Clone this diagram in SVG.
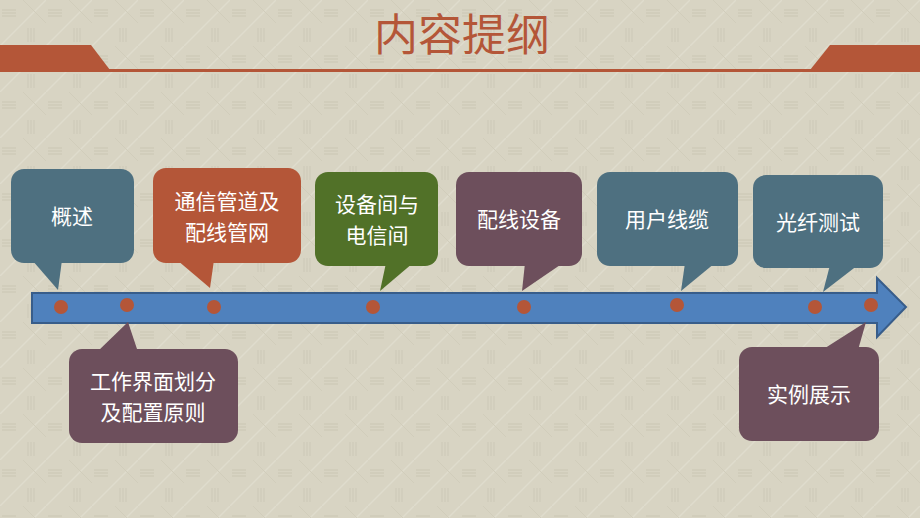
<svg xmlns="http://www.w3.org/2000/svg" width="920" height="518" viewBox="0 0 920 518">
<defs>
<pattern id="tex" width="46" height="46" patternUnits="userSpaceOnUse">
<rect width="46" height="46" fill="#D8D4C3"/>
<path d="M0 46 L46 0" stroke="#DFDCCD" stroke-width="1.5"/>
<path d="M2 10 H16 M2 13 H16 M2 16 H16" stroke="#CAC6B4" stroke-width="1"/>
<path d="M28 28 V42 M31 28 V42 M34 28 V42" stroke="#CDC9B7" stroke-width="1"/>
<path d="M23 0 L46 23" stroke="#D1CDBB" stroke-width="1"/>
</pattern>
<style>
.t{font-family:"Noto Sans CJK SC","Noto Sans",sans-serif;font-size:21px;fill:#FFFFFF;text-anchor:middle}
.blue{fill:#4E7080}
.red{fill:#B45638}
.green{fill:#517128}
.mauve{fill:#6D4F5C}
.dot{fill:#B45638}
</style>
</defs>
<rect width="920" height="518" fill="url(#tex)"/>
<g id="header">
<polygon points="0,45 91,45 110,70 0,70" fill="#B45638"/>
<polygon points="830,45 920,45 920,70 810,70" fill="#B45638"/>
<rect x="0" y="69" width="920" height="3" fill="#B45638"/>
<text x="462" y="51" style="font-family:'Noto Sans CJK SC','Noto Sans',sans-serif;font-size:44px;fill:#B45638;text-anchor:middle">内容提纲</text>
</g>
<g id="connectors">
<path d="M32,293 H877 V278 L906,307 L877,337 V323 H32 Z" fill="#4F81BD" stroke="#385D8A" stroke-width="2"/>
<circle class="dot" cx="61" cy="307" r="7"/>
<circle class="dot" cx="127" cy="305" r="7"/>
<circle class="dot" cx="214" cy="307" r="7"/>
<circle class="dot" cx="373" cy="307" r="7"/>
<circle class="dot" cx="524" cy="307" r="7"/>
<circle class="dot" cx="677" cy="305" r="7"/>
<circle class="dot" cx="815" cy="307" r="7"/>
<circle class="dot" cx="871" cy="305" r="7"/>
</g>
<g id="n1">
<rect class="blue" x="11" y="169" width="123" height="94" rx="13"/>
<polygon class="blue" points="32,260 62,260 58,290"/>
<text class="t" x="72" y="224">概述</text>
</g>
<g id="n2">
<rect class="red" x="153" y="168" width="148" height="95" rx="13"/>
<polygon class="red" points="177,260 214,260 210,288"/>
<text class="t" x="227" y="209">通信管道及</text>
<text class="t" x="227" y="240">配线管网</text>
</g>
<g id="n3">
<rect class="green" x="315" y="172" width="123" height="94" rx="13"/>
<polygon class="green" points="386,263 413,263 380,291"/>
<text class="t" x="377" y="212">设备间与</text>
<text class="t" x="377" y="243">电信间</text>
</g>
<g id="n4">
<rect class="mauve" x="456" y="172" width="126" height="94" rx="13"/>
<polygon class="mauve" points="525,263 563,263 522,291"/>
<text class="t" x="519" y="227">配线设备</text>
</g>
<g id="n5">
<rect class="blue" x="597" y="172" width="141" height="94" rx="13"/>
<polygon class="blue" points="685,263 715,263 681,291"/>
<text class="t" x="667" y="227">用户线缆</text>
</g>
<g id="n6">
<rect class="blue" x="753" y="175" width="130" height="93" rx="13"/>
<polygon class="blue" points="830,265 858,265 823,292"/>
<text class="t" x="818" y="230">光纤测试</text>
</g>
<g id="n7">
<rect class="mauve" x="69" y="349" width="169" height="94" rx="13"/>
<polygon class="mauve" points="97,352 138,352 128,322"/>
<text class="t" x="153" y="389">工作界面划分</text>
<text class="t" x="153" y="420">及配置原则</text>
</g>
<g id="n8">
<rect class="mauve" x="739" y="347" width="140" height="94" rx="13"/>
<polygon class="mauve" points="822,350 858,350 866,322"/>
<text class="t" x="809" y="402">实例展示</text>
</g>
</svg>
